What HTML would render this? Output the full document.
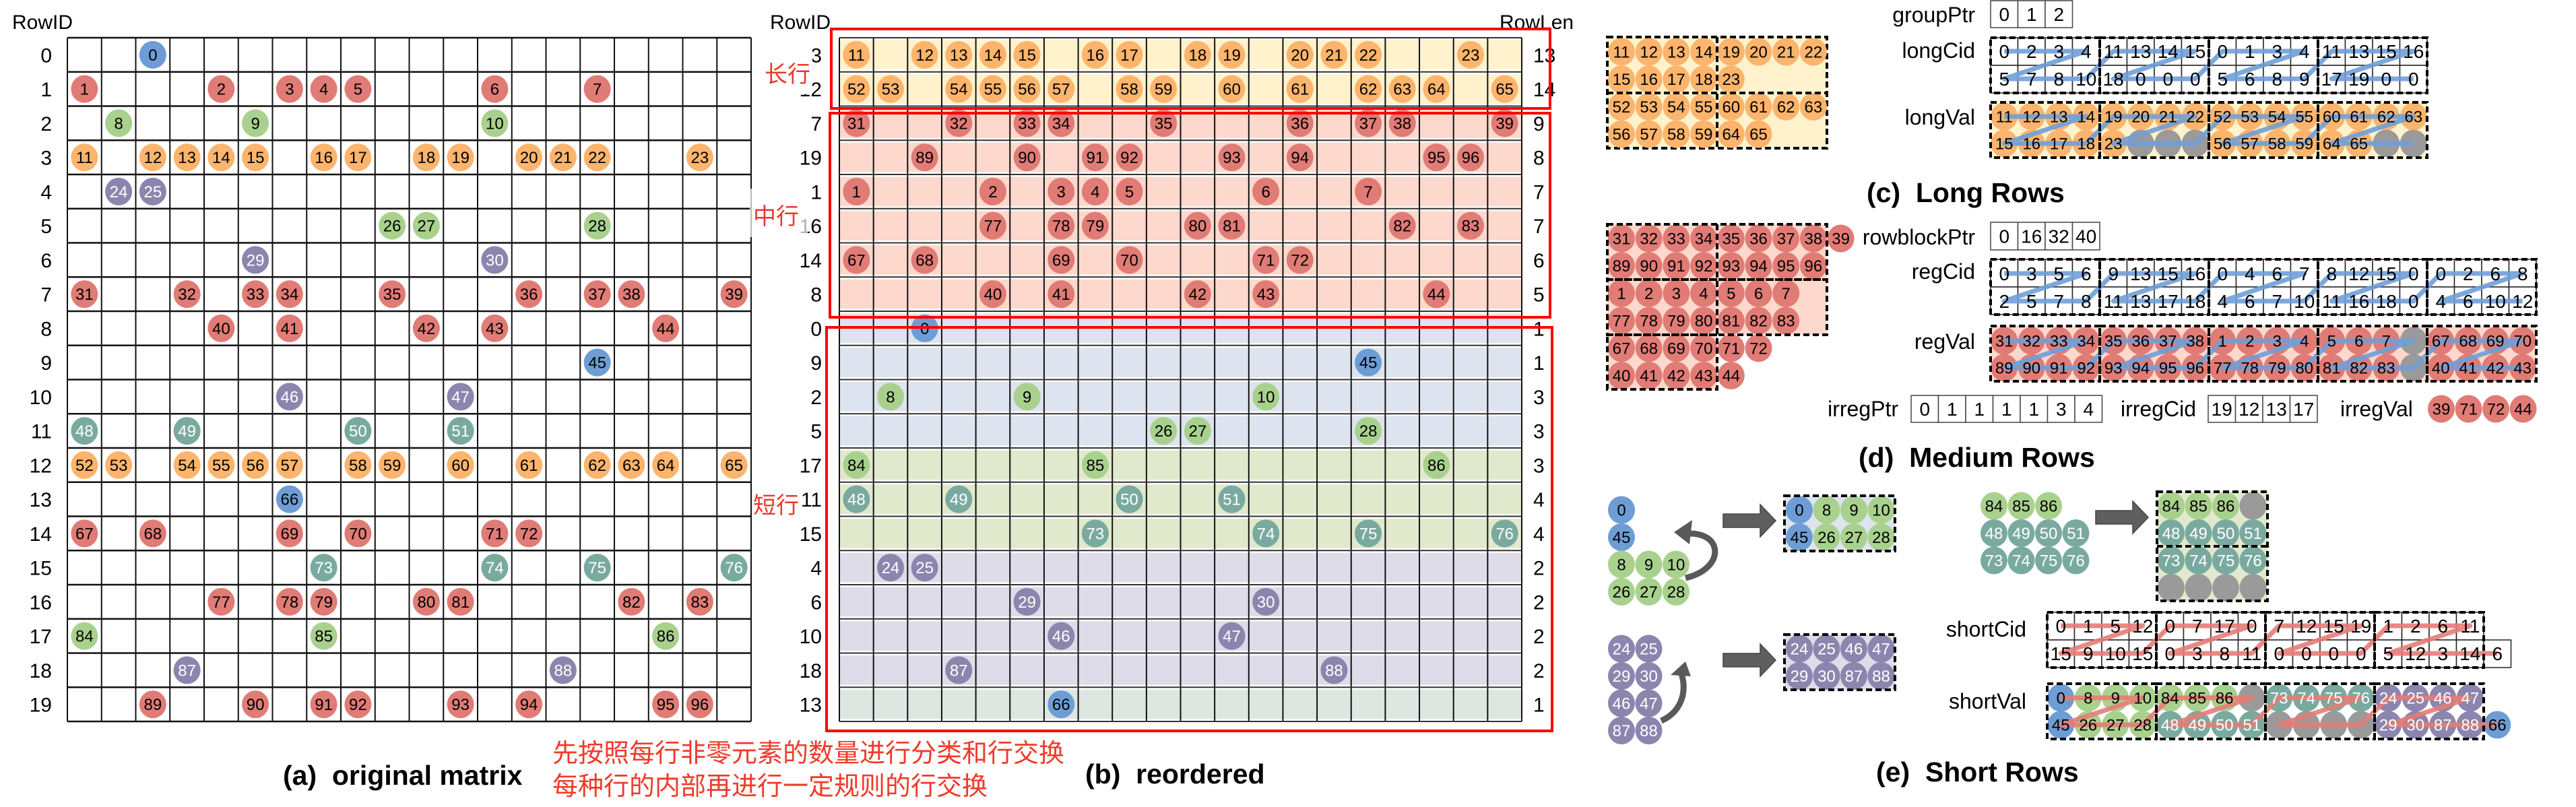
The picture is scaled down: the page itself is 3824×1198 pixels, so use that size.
<!DOCTYPE html>
<html><head><meta charset="utf-8">
<style>
html,body{margin:0;padding:0;background:#fff;}
svg{display:block;font-family:"Liberation Sans","Noto Sans CJK SC",sans-serif;}
</style></head>
<body>
<svg id="fig" xmlns="http://www.w3.org/2000/svg" width="3824" height="1198" viewBox="0 0 3824 1198">
<rect x="0" y="0" width="3824" height="1198" fill="#fff"/>
</svg>
<script>
// ---------- data ----------
const rowIds = [0,1,2,3,4,5,6,7,8,9,10,11,12,13,14,15,16,17,18,19];
const rowColor = ['B','R','G','O','P','G','P','R','R','B','P','T','O','B','R','T','R','G','P','R'];
const rowCols = [
 [2],[0,4,6,7,8,12,15],[1,5,12],[0,2,3,4,5,7,8,10,11,13,14,15,18],[1,2],[9,10,15],[5,12],
 [0,3,5,6,9,13,15,16,19],[4,6,10,12,17],[15],[6,11],[0,3,8,11],
 [0,1,3,4,5,6,8,9,11,13,15,16,17,19],[6],[0,2,6,8,12,13],[7,12,15,19],
 [4,6,7,10,11,16,18],[0,7,17],[3,14],[2,5,7,8,11,13,17,18]];
const rowVals = [
 [0],[1,2,3,4,5,6,7],[8,9,10],[11,12,13,14,15,16,17,18,19,20,21,22,23],[24,25],[26,27,28],[29,30],
 [31,32,33,34,35,36,37,38,39],[40,41,42,43,44],[45],[46,47],[48,49,50,51],
 [52,53,54,55,56,57,58,59,60,61,62,63,64,65],[66],[67,68,69,70,71,72],[73,74,75,76],
 [77,78,79,80,81,82,83],[84,85,86],[87,88],[89,90,91,92,93,94,95,96]];
const reorder = [3,12,7,19,1,16,14,8,0,9,2,5,17,11,15,4,6,10,18,13];
const bandColor = ['Y','Y','K','K','K','K','K','K','L','L','L','L','M','M','M','N','N','N','N','S'];
const longBlock = [[11,12,13,14,19,20,21,22],[15,16,17,18,23],[52,53,54,55,60,61,62,63],[56,57,58,59,64,65]];
const medBlock = [[31,32,33,34,35,36,37,38,39],[89,90,91,92,93,94,95,96],[1,2,3,4,5,6,7],[77,78,79,80,81,82,83],[67,68,69,70,71,72],[40,41,42,43,44]];
const groupPtr = [0,1,2];
const longCidTop = [0,2,3,4, 11,13,14,15, 0,1,3,4, 11,13,15,16];
const longCidBot = [5,7,8,10, 18,0,0,0, 5,6,8,9, 17,19,0,0];
const longValTop = [11,12,13,14, 19,20,21,22, 52,53,54,55, 60,61,62,63];
const longValBot = [15,16,17,18, 23,'',' ',' ', 56,57,58,59, 64,65,' ',' '];
const rowblockPtr = [0,16,32,40];
const regCidTop = [0,3,5,6, 9,13,15,16, 0,4,6,7, 8,12,15,0, 0,2,6,8];
const regCidBot = [2,5,7,8, 11,13,17,18, 4,6,7,10, 11,16,18,0, 4,6,10,12];
const regValTop = [31,32,33,34, 35,36,37,38, 1,2,3,4, 5,6,7,' ', 67,68,69,70];
const regValBot = [89,90,91,92, 93,94,95,96, 77,78,79,80, 81,82,83,' ', 40,41,42,43];
const irregPtr = [0,1,1,1,1,3,4];
const irregCid = [19,12,13,17];
const irregVal = [39,71,72,44];
const shortCidTop = [0,1,5,12, 0,7,17,0, 7,12,15,19, 1,2,6,11];
const shortCidBot = [15,9,10,15, 0,3,8,11, 0,0,0,0, 5,12,3,14, 6];
const shortValTop = ['B0','G8','G9','G10','G84','G85','G86','X','T73','T74','T75','T76','P24','P25','P46','P47'];
const shortValBot = ['B45','G26','G27','G28','T48','T49','T50','T51','X','X','X','X','P29','P30','P87','P88','B66'];
const blueGroupA = [['B0'],['B45'],['G8','G9','G10'],['G26','G27','G28']];
const blueGroupB = [['B0','G8','G9','G10'],['B45','G26','G27','G28']];
const purpleGroupA = [['P24','P25'],['P29','P30'],['P46','P47'],['P87','P88']];
const purpleGroupB = [['P24','P25','P46','P47'],['P29','P30','P87','P88']];
const greenGroupA = [['G84','G85','G86'],['T48','T49','T50','T51'],['T73','T74','T75','T76']];
const greenGroupB = [['G84','G85','G86','X'],['T48','T49','T50','T51'],['T73','T74','T75','T76'],['X','X','X','X']];

// ---------- styles ----------
const FILL = {B:'#6d9dd4',R:'#e17b75',G:'#a9d18e',O:'#fdb46c',P:'#8c85ae',T:'#7aaa9f',X:'#9a9a9a'};
const BAND = {Y:'#fff2cc',K:'#fdd8cc',L:'#dde4ef',M:'#e1e9cd',N:'#dfdce9',S:'#dee6e2'};
const NS='http://www.w3.org/2000/svg';
const svg=document.getElementById('fig');

function mk(tag, attrs, name, parent){
  const e=document.createElementNS(NS,tag);
  for(const k in attrs) e.setAttribute(k,attrs[k]);
  
  
  (parent||svg).appendChild(e);
  return e;
}
function txt(x,y,s,size,name,opt){
  opt=opt||{};
  const e=mk('text',{x:x,y:y,'font-size':size,fill:opt.fill||'#000','text-anchor':opt.anchor||'start','font-weight':opt.bold?'bold':'normal'},name);
  if(opt.family) e.setAttribute('font-family',opt.family);
  e.textContent=s;
  return e;
}
const textLayer=[];
function circ(cx,cy,code,name){
  let c=code[0], label=code.slice(1);
  mk('ellipse',{cx:cx,cy:cy,rx:20,ry:20.5,fill:FILL[c]},name);
  if(label!=='') textLayer.push([cx,cy,label,(c==='P'||c==='T')?'#fff':'#000',name+'-label']);
}
function flushText(){
  textLayer.forEach(t=>{txt(t[0],t[1]+8.5,t[2],24,t[4],{anchor:'middle',fill:t[3]});});
  textLayer.length=0;
}
function dashRect(x,y,w,h,name,fill){
  mk('rect',{x:x,y:y,width:w,height:h,fill:fill||'none',stroke:'#000','stroke-width':4,'stroke-dasharray':'9,5'},name);
}
function dashLine(x1,y1,x2,y2,name){
  mk('line',{x1:x1,y1:y1,x2:x2,y2:y2,stroke:'#000','stroke-width':4,'stroke-dasharray':'9,5'},name);
}

// ---------- (a) original matrix ----------
const A={x:100,y:56,cw:50.75,rh:50.75};
txt(18,43,'RowID',30,'a-rowid-title');
rowIds.forEach((r,i)=>{txt(77,A.y+A.rh*i+A.rh/2+11,String(r),30,'a-row-label',{anchor:'end'});});
for(let i=0;i<=20;i++){
  mk('line',{x1:A.x+A.cw*i,y1:A.y,x2:A.x+A.cw*i,y2:A.y+A.rh*20,stroke:'#111','stroke-width':2},'a-grid-v');
  mk('line',{x1:A.x,y1:A.y+A.rh*i,x2:A.x+A.cw*20,y2:A.y+A.rh*i,stroke:'#111','stroke-width':2.5},'a-grid-h');
}
rowIds.forEach((r,i)=>{
  rowCols[r].forEach((c,k)=>circ(A.x+A.cw*(c+0.5),A.y+A.rh*(i+0.5),rowColor[r]+rowVals[r][k],'a-nonzero'));
});
flushText();
txt(420,1165,'(a)\u00a0\u00a0original matrix',41,'a-caption',{bold:true});
txt(820,1131,'先按照每行非零元素的数量进行分类和行交换',38,'note-line1',{fill:'#f03a2a',family:'"Noto Sans CJK SC",sans-serif'});
txt(820,1180,'每种行的内部再进行一定规则的行交换',38,'note-line2',{fill:'#f03a2a',family:'"Noto Sans CJK SC",sans-serif'});

// ---------- (b) reordered ----------
const Bm={x:1246,y:56,cw:50.65,rh:50.75};
txt(1143,43,'RowID',30,'b-rowid-title');
txt(2226,43,'RowLen',30,'b-rowlen-title');
reorder.forEach((r,i)=>{
  mk('rect',{x:Bm.x,y:Bm.y+Bm.rh*i+3.5,width:Bm.cw*20,height:Bm.rh-7,fill:BAND[bandColor[i]]},'b-row-band');
});
for(let i=0;i<=20;i++){
  mk('line',{x1:Bm.x+Bm.cw*i,y1:Bm.y,x2:Bm.x+Bm.cw*i,y2:Bm.y+Bm.rh*20,stroke:'#111','stroke-width':2},'b-grid-v');
  mk('line',{x1:Bm.x,y1:Bm.y+Bm.rh*i,x2:Bm.x+Bm.cw*20,y2:Bm.y+Bm.rh*i,stroke:'#333','stroke-width':2},'b-grid-h');
}
reorder.forEach((r,i)=>{
  const cy=Bm.y+Bm.rh*(i+0.5);
  rowCols[r].forEach((c,k)=>circ(Bm.x+Bm.cw*(c+0.5),cy,rowColor[r]+rowVals[r][k],'b-nonzero'));
  txt(1220,cy+11,String(r),30,'b-row-label',{anchor:'end'});
  txt(2276,cy+11,String(rowVals[r].length),30,'b-rowlen');
});
flushText();
mk('rect',{x:1120,y:68,width:86,height:72,fill:'#fff'},'long-label-bg');
mk('rect',{x:1113,y:280,width:86,height:72,fill:'#fff','fill-opacity':0.7},'mid-label-bg');
txt(1135,122,'长行',34,'long-rows-tag',{fill:'#e8392b',family:'"Noto Sans CJK SC",sans-serif'});
txt(1118,333,'中行',34,'medium-rows-tag',{fill:'#e8392b',family:'"Noto Sans CJK SC",sans-serif'});
txt(1118,762,'短行',34,'short-rows-tag',{fill:'#e8392b',family:'"Noto Sans CJK SC",sans-serif'});
mk('rect',{x:1234,y:43,width:1067,height:118,fill:'none',stroke:'#f00','stroke-width':4},'long-rows-box');
mk('rect',{x:1232,y:168,width:1069,height:303,fill:'none',stroke:'#f00','stroke-width':4},'medium-rows-box');
mk('rect',{x:1227,y:486,width:1077,height:599,fill:'none',stroke:'#f00','stroke-width':4},'short-rows-box');
txt(1611,1163,'(b)\u00a0\u00a0reordered',41,'b-caption',{bold:true});

// ---------- helpers for arrays ----------
const CW=40.5, AX=2955;
function solidArray(x0,y,h,vals,name){
  vals.forEach((v,i)=>{
    mk('rect',{x:x0+CW*i,y:y,width:CW,height:h,fill:'#fff',stroke:'#444','stroke-width':1.5},name+'-cell');
    txt(x0+CW*(i+0.5),y+h/2+10,String(v),28,name+'-value',{anchor:'middle'});
  });
}
function gridCells(x0,y0,h,top,bot,name){
  top.forEach((v,i)=>mk('rect',{x:x0+CW*i,y:y0,width:CW,height:h,fill:'#fff',stroke:'#222','stroke-width':1.5},name+'-cell'));
  bot.forEach((v,i)=>mk('rect',{x:x0+CW*i,y:y0+h,width:CW,height:h,fill:'#fff',stroke:'#222','stroke-width':1.5},name+'-cell'));
}
function zigzag(x0,yT,yB,nTop,nBot,color,name){
  const pts=[];
  const cx=i=>x0+CW*(i+0.5);
  const groups=nTop/4;
  for(let g=0;g<groups;g++){
    pts.push([cx(4*g),yT],[cx(4*g+3),yT],[cx(4*g),yB],[cx(4*g+3),yB]);
  }
  if(nBot>nTop) pts.push([cx(nBot-1),yB]);
  mk('polyline',{points:pts.map(p=>p.join(',')).join(' '),fill:'none',stroke:color,'stroke-width':7,'stroke-opacity':0.9,'stroke-linejoin':'round'},name);
}
function cellTexts(x0,yT,yB,top,bot,name){
  top.forEach((v,i)=>txt(x0+CW*(i+0.5),yT+10,String(v),28,name+'-value',{anchor:'middle'}));
  bot.forEach((v,i)=>txt(x0+CW*(i+0.5),yB+10,String(v),28,name+'-value',{anchor:'middle'}));
}
function valCircles(x0,yT,yB,top,bot,col,name){
  const code=v=>(typeof v==='string' && /^[A-Z]/.test(v))?v:((String(v).trim()==='')?'X':col+v);
  top.forEach((v,i)=>circ(x0+CW*(i+0.5),yT,code(v),name));
  bot.forEach((v,i)=>circ(x0+CW*(i+0.5),yB,code(v),name));
}

// ---------- (c) long rows ----------
dashRect(2386,55,326,165,'long-block-box','#fff2cc');
longBlock.forEach((row,r)=>row.forEach((v,c)=>circ(2407+40.7*c,77+40.7*r,'O'+v,'long-block-nz')));
flushText();
dashLine(2549,55,2549,220,'long-block-divider');
dashLine(2386,138,2712,138,'long-block-divider');

txt(2932,33,'groupPtr',32,'grouPtr-label',{anchor:'end'});
solidArray(AX,1,40,groupPtr,'groupPtr');
txt(2932,86,'longCid',32,'longCid-label',{anchor:'end'});
gridCells(AX,56,41,longCidTop,longCidBot,'longCid');
zigzag(AX,76,117,16,16,'#6f9fd8','longCid-order-line');
cellTexts(AX,76,117,longCidTop,longCidBot,'longCid');
for(let g=0;g<4;g++) dashRect(AX+CW*4*g,56,CW*4,82,'longCid-group');
txt(2932,185,'longVal',32,'longVal-label',{anchor:'end'});
mk('rect',{x:AX,y:152,width:CW*16,height:82,fill:'#fff2cc'},'longVal-bg');
valCircles(AX,173,213,longValTop,longValBot,'O','longVal-nz');
zigzag(AX,173,213,16,16,'#6f9fd8','longVal-order-line');
flushText();
for(let g=0;g<4;g++) dashRect(AX+CW*4*g,152,CW*4,82,'longVal-group');
txt(2771,300,'(c)\u00a0\u00a0Long Rows',41,'c-caption',{bold:true});

// ---------- (d) medium rows ----------
dashRect(2386,333,326,82,'med-box-1','#fdd8cc');
dashRect(2386,415,326,82,'med-box-2','#fdd8cc');
dashRect(2386,497,163,81,'med-box-3','#fdd8cc');
medBlock.forEach((row,r)=>row.forEach((v,c)=>circ(2407+40.7*c,354+40.7*r,'R'+v,'medium-block-nz')));
flushText();
dashLine(2549,333,2549,497,'med-box-divider');
dashRect(2386,333,326,82,'med-box-1');
dashRect(2386,415,326,82,'med-box-2');
dashRect(2386,497,163,81,'med-box-3');

txt(2932,363,'rowblockPtr',32,'rowblockPtr-label',{anchor:'end'});
solidArray(AX,330,41,rowblockPtr,'rowblockPtr');
txt(2932,414,'regCid',32,'regCid-label',{anchor:'end'});
gridCells(AX,385,41,regCidTop,regCidBot,'regCid');
zigzag(AX,406,447,20,20,'#6f9fd8','regCid-order-line');
cellTexts(AX,406,447,regCidTop,regCidBot,'regCid');
for(let g=0;g<5;g++) dashRect(AX+CW*4*g,385,CW*4,82,'regCid-group');
txt(2932,518,'regVal',32,'regVal-label',{anchor:'end'});
mk('rect',{x:AX,y:484,width:CW*20,height:82,fill:'#fdd8cc'},'regVal-bg');
valCircles(AX,506,546,regValTop,regValBot,'R','regVal-nz');
zigzag(AX,506,546,20,20,'#6f9fd8','regVal-order-line');
flushText();
for(let g=0;g<5;g++) dashRect(AX+CW*4*g,484,CW*4,82,'regVal-group');

txt(2818,618,'irregPtr',32,'irregPtr-label',{anchor:'end'});
solidArray(2837,587,40,irregPtr,'irregPtr');
txt(3148,618,'irregCid',32,'irregCid-label');
solidArray(3278,587,40,irregCid,'irregCid');
txt(3474,618,'irregVal',32,'irregVal-label');
irregVal.forEach((v,i)=>circ(3624+40.5*i,607,'R'+v,'irregVal-nz'));
flushText();
txt(2759,693,'(d)\u00a0\u00a0Medium Rows',41,'d-caption',{bold:true});

// ---------- (e) short rows ----------
function blockCircles(x0,y0,rows,name){
  rows.forEach((row,r)=>row.forEach((code,c)=>circ(x0+40.5*c,y0+40.5*r,code,name)));
  flushText();
}
function curveArrow(d,head,name){
  mk('path',{d:d,fill:'none',stroke:'#595959','stroke-width':9},name);
  mk('polygon',{points:head,fill:'#595959'},name+'-head');
}
function blockArrow(x,y,name){
  mk('polygon',{points:`${x},${y-10} ${x+55},${y-10} ${x+55},${y-24} ${x+78},${y} ${x+55},${y+24} ${x+55},${y+10} ${x},${y+10}`,fill:'#5f5f5f',stroke:'#444','stroke-width':1.5},name);
}
blockCircles(2407,757,blueGroupA,'short-blue-src');
curveArrow('M2502,858 C2560,845 2560,790 2505,792','2485,790 2512,772 2508,808','short-blue-swap-arrow');
blockArrow(2558,773,'short-blue-arrow');
dashRect(2649,736,164,82,'short-blue-box','#dde4ef');
blockCircles(2671,757,blueGroupB,'short-blue-dst');
dashRect(2649,736,164,82,'short-blue-box');

blockCircles(2407,963,purpleGroupA,'short-purple-src');
curveArrow('M2466,1070 C2500,1055 2505,1020 2494,995','2480,1002 2502,982 2510,1004','short-purple-swap-arrow');
blockArrow(2558,980,'short-purple-arrow');
dashRect(2649,942,164,82,'short-purple-box','#dfdce9');
blockCircles(2671,963,purpleGroupB,'short-purple-dst');
dashRect(2649,942,164,82,'short-purple-box');

blockCircles(2960,751,greenGroupA,'short-green-src');
blockArrow(3111,768,'short-green-arrow');
dashRect(3202,730,164,162,'short-green-box','#e1e9cd');
blockCircles(3223,751,greenGroupB,'short-green-dst');
dashRect(3202,730,164,162,'short-green-box');
dashLine(3202,811,3366,811,'short-green-divider');

const SX=3039;
txt(3008,945,'shortCid',32,'shortCid-label',{anchor:'end'});
gridCells(SX,909,41,shortCidTop,shortCidBot,'shortCid');
zigzag(SX,929,970,16,17,'#e57c76','shortCid-order-line');
cellTexts(SX,929,970,shortCidTop,shortCidBot,'shortCid');
for(let g=0;g<4;g++) dashRect(SX+CW*4*g,909,CW*4,82,'shortCid-group');
txt(3008,1052,'shortVal',32,'shortVal-label',{anchor:'end'});
valCircles(SX,1036,1076,shortValTop,shortValBot,'G','shortVal-nz');
zigzag(SX,1036,1076,16,17,'#e57c76','shortVal-order-line');
flushText();
for(let g=0;g<4;g++) dashRect(SX+CW*4*g,1015,CW*4,82,'shortVal-group');
txt(2785,1160,'(e)\u00a0\u00a0Short Rows',41,'e-caption',{bold:true});
</script>
</body></html>
